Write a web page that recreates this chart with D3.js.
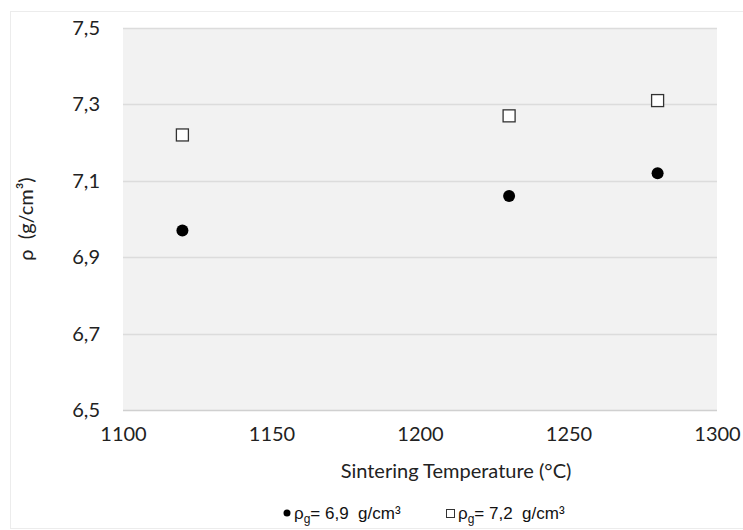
<!DOCTYPE html>
<html lang="en">
<head>
  <meta charset="utf-8">
  <title>Density vs sintering temperature</title>
  <script src="https://cdn.jsdelivr.net/npm/d3@7"></script>
  <style>
    body { margin: 0; background: #fff; }
    text { white-space: pre; }
  </style>
</head>
<body>
  <div id="chart-area"></div>
  <script>
    // data
    var temps = [1120, 1230, 1280];
    var rho69 = [6.97, 7.06, 7.12];
    var rho72 = [7.22, 7.27, 7.31];
    var xTicks = [1100, 1150, 1200, 1250, 1300];
    var yTicks = [6.5, 6.7, 6.9, 7.1, 7.3, 7.5];

    var svgWidth = 743, svgHeight = 530;
    var margin = { top: 28, left: 123, bottom: 120, right: 26 };
    var width = svgWidth - margin.left - margin.right;
    var height = svgHeight - margin.top - margin.bottom;

    var svg = d3.select("#chart-area").append("svg")
                .attr("width", svgWidth)
                .attr("height", svgHeight)
                .style("font-family", "Lato, sans-serif");

    // outer frame
    svg.append("rect")
       .attr("x", 10.5).attr("y", 11.5)
       .attr("width", 740).attr("height", 517)
       .attr("fill", "none")
       .attr("stroke", "#ececec");

    var g = svg.append("g")
               .attr("transform", "translate(" + margin.left + "," + margin.top + ")");

    var x = d3.scaleLinear().domain([1100, 1300]).range([0, width]);
    var y = d3.scaleLinear().domain([6.5, 7.5]).range([height, 0]);

    g.append("rect")
     .attr("width", width).attr("height", height)
     .attr("fill", "#f2f2f2");

    // gridlines
    g.selectAll(".grid").data(yTicks).enter()
     .append("line")
     .attr("class", "grid")
     .attr("x1", 0).attr("x2", width)
     .attr("y1", d => Math.round(y(d)) + 0.5)
     .attr("y2", d => Math.round(y(d)) + 0.5)
     .attr("stroke", d => d === 6.5 ? "#d0d0d0" : "#dcdcdc")
     .attr("stroke-width", 1.5);

    var fmt = d => d3.format(".1f")(d).replace(".", ",");

    var yAxis = g.append("g")
                 .call(d3.axisLeft(y).tickValues(yTicks).tickFormat(fmt).tickSize(0).tickPadding(23));
    yAxis.select(".domain").remove();
    yAxis.selectAll("text").style("font-size", "20px").style("font-family", "Lato, sans-serif")
         .attr("fill", "#222");

    var xAxis = g.append("g")
                 .attr("transform", "translate(0," + height + ")")
                 .call(d3.axisBottom(x).tickValues(xTicks).tickFormat(d3.format("d")).tickSize(0).tickPadding(17));
    xAxis.select(".domain").remove();
    xAxis.selectAll("text").style("font-size", "20px").style("font-family", "Lato, sans-serif")
         .attr("fill", "#222");

    // axis titles
    svg.append("text")
       .attr("x", margin.left + width / 2 + 36)
       .attr("y", 478)
       .attr("text-anchor", "middle")
       .style("font-size", "20px")
       .attr("fill", "#222")
       .text("Sintering Temperature (°C)");

    svg.append("text")
       .attr("transform", "translate(33," + (margin.top + height / 2) + ") rotate(-90)")
       .attr("text-anchor", "middle")
       .style("font-size", "20px")
       .attr("fill", "#222")
       .text("ρ  (g/cm³)");

    // series
    g.selectAll(".dot").data(temps).enter()
     .append("circle")
     .attr("class", "dot")
     .attr("cx", (d, i) => x(d))
     .attr("cy", (d, i) => y(rho69[i]))
     .attr("r", 6)
     .attr("fill", "#000");

    g.selectAll(".sq").data(temps).enter()
     .append("rect")
     .attr("class", "sq")
     .attr("x", (d, i) => x(d) - 6)
     .attr("y", (d, i) => y(rho72[i]) - 6)
     .attr("width", 12).attr("height", 12)
     .attr("fill", "#fff")
     .attr("stroke", "#333")
     .attr("stroke-width", 1.3);

    // legend
    var leg = svg.append("g")
                 .style("font-family", "'Liberation Sans', Arial, sans-serif")
                 .style("font-size", "17px").attr("fill", "#111");
    leg.append("circle").attr("cx", 287).attr("cy", 513).attr("r", 3.5).attr("fill", "#000");
    var t1 = leg.append("text").attr("x", 294).attr("y", 519);
    t1.append("tspan").text("ρ");
    t1.append("tspan").style("font-size", "12px").attr("dy", 4).text("g");
    t1.append("tspan").attr("dy", -4).text("= 6,9  g/cm³");

    leg.append("rect").attr("x", 446.5).attr("y", 509.5).attr("width", 8).attr("height", 8)
       .attr("fill", "none").attr("stroke", "#333");
    var t2 = leg.append("text").attr("x", 458).attr("y", 519);
    t2.append("tspan").text("ρ");
    t2.append("tspan").style("font-size", "12px").attr("dy", 4).text("g");
    t2.append("tspan").attr("dy", -4).text("= 7,2  g/cm³");
  </script>
</body>
</html>
